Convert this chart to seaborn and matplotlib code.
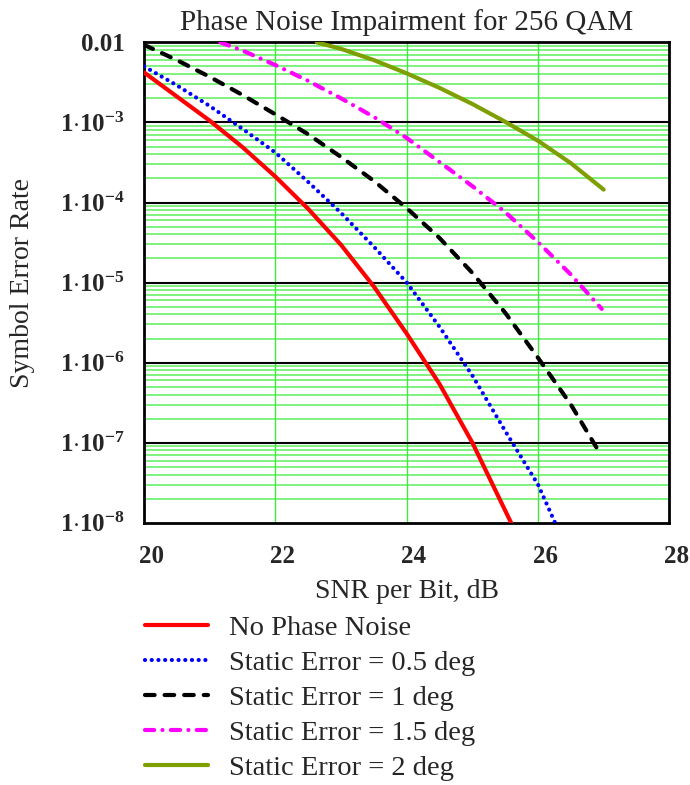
import numpy as np
import pandas as pd
import matplotlib
matplotlib.use('Agg')
import matplotlib.pyplot as plt
import matplotlib.ticker as mticker
import matplotlib.transforms as mtransforms
import seaborn as sns

# values (SNR per bit in dB, symbol error rate)
snr_none = [20.0, 20.5, 21.0, 21.5, 22.0, 22.5, 23.0, 23.5, 24.0, 24.5, 25.0, 25.59]
ser_none = [4.2e-3, 2.1e-3, 1.05e-3, 4.9e-4, 2.1e-4, 8.3e-5, 2.95e-5, 8.9e-6, 2.3e-6, 5.4e-7, 1.0e-7, 1.0e-8]

snr_05 = [20.0, 20.5, 21.0, 21.5, 22.0, 22.5, 23.0, 23.5, 24.0, 24.5, 25.0, 25.5, 26.0, 26.26]
ser_05 = [5.0e-3, 2.9e-3, 1.6e-3, 8.3e-4, 4.2e-4, 1.8e-4, 7.4e-5, 2.8e-5, 1.0e-5, 2.8e-6, 6.9e-7, 1.4e-7, 3.0e-8, 1.0e-8]

snr_1 = [20.0, 20.5, 21.0, 21.5, 22.0, 22.5, 23.0, 23.5, 24.0, 24.5, 25.0, 25.5, 26.0, 26.5, 26.96]
ser_1 = [9.3e-3, 6.0e-3, 3.7e-3, 2.2e-3, 1.26e-3, 7.1e-4, 3.7e-4, 1.86e-4, 8.5e-5, 3.6e-5, 1.32e-5, 4.2e-6, 1.15e-6, 3.0e-7, 7.0e-8]

snr_15 = [21.16, 21.5, 22.0, 22.5, 23.0, 23.5, 24.0, 24.5, 25.0, 25.5, 26.0, 26.5, 26.97]
ser_15 = [1.0e-2, 7.9e-3, 5.2e-3, 3.3e-3, 2.0e-3, 1.17e-3, 6.4e-4, 3.2e-4, 1.6e-4, 7.6e-5, 3.2e-5, 1.26e-5, 4.7e-6]

snr_2 = [22.63, 23.0, 23.5, 24.0, 24.5, 25.0, 25.5, 26.0, 26.5, 27.0]
ser_2 = [1.0e-2, 8.3e-3, 6.0e-3, 4.1e-3, 2.7e-3, 1.7e-3, 1.02e-3, 5.9e-4, 3.1e-4, 1.45e-4]

labels = ['No Phase Noise', 'Static Error = 0.5 deg', 'Static Error = 1 deg',
          'Static Error = 1.5 deg', 'Static Error = 2 deg']
colors = ['#ff0000', '#0000ff', '#000000', '#ff00ff', '#7f9f00']
styles = ['-', (0, (0.01, 1.6)), (0, (2.3, 2.4)), (0, (2.2, 2.0, 0.01, 2.0)), '-']
widths = [3.0, 3.0, 3.0, 3.0, 3.0]

sns.set_style('white')
plt.rcParams['font.family'] = ['Liberation Serif', 'DejaVu Serif']
plt.rcParams['mathtext.fontset'] = 'custom'
plt.rcParams['mathtext.rm'] = 'Liberation Serif'
plt.rcParams['mathtext.bf'] = 'Liberation Serif:bold'

fig = plt.figure(figsize=(6.9, 7.85), dpi=100)
ax = fig.add_axes([0.209, 0.334, 0.761, 0.612])

ax.set_yscale('log')
ax.set_xlim(20, 28)
ax.set_ylim(1e-8, 1e-2)

# grid: green minor horizontals, black decade lines, green verticals every 2 dB
for dec in range(-8, -2):
    for m in range(2, 10):
        ax.axhline(m * 10.0**dec, color='#5cef5c', lw=1.1, zorder=1)
for dec in range(-7, -2):
    ax.axhline(10.0**dec, color='black', lw=1.5, zorder=1.5)
for xv in [22, 24, 26]:
    ax.axvline(xv, color='#3fe83f', lw=1.0, zorder=1)

series = [(snr_none, ser_none), (snr_05, ser_05), (snr_1, ser_1), (snr_15, ser_15), (snr_2, ser_2)]
for (sx, sy), lab, c, ls, lw in zip(series, labels, colors, styles, widths):
    df = pd.DataFrame({'snr': sx, 'ser': sy})
    capst = 'butt' if ls == '-' else 'round'
    sns.lineplot(data=df, x='snr', y='ser', ax=ax, color=c, lw=lw, linestyle=ls,
                 label=lab, zorder=3, sort=False, dash_capstyle=capst)

ax.get_legend().remove()

ax.set_xticks([20, 22, 24, 26, 28])
ax.set_xticklabels(['20', '22', '24', '26', '28'], fontsize=18, fontweight='bold')
yt = [1e-8, 1e-7, 1e-6, 1e-5, 1e-4, 1e-3, 1e-2]
ylab = [r'$\mathbf{1{\cdot}10^{-%d}}$' % n for n in [8, 7, 6, 5, 4, 3]] + ['0.01']
ax.yaxis.set_major_locator(mticker.FixedLocator(yt))
ax.yaxis.set_minor_locator(mticker.NullLocator())
ax.set_yticklabels(ylab, fontsize=18, fontweight='bold')
ax.tick_params(axis='both', length=0)
ax.tick_params(axis='x', pad=16)
ax.tick_params(axis='y', pad=14)
off = mtransforms.ScaledTranslation(7 / 100, 0, fig.dpi_scale_trans)
for t in ax.get_xticklabels():
    t.set_transform(t.get_transform() + off)

for s in ax.spines.values():
    s.set_color('black')
    s.set_linewidth(2)

ax.set_xlabel('SNR per Bit, dB', fontsize=20, labelpad=8)
ax.set_ylabel('Symbol Error Rate', fontsize=20, labelpad=18)
ax.set_title('Phase Noise Impairment for 256 QAM', fontsize=21, pad=9)

handles, _ = ax.get_legend_handles_labels()
fig.legend(handles, labels, loc='upper left', bbox_to_anchor=(0.19, 0.235),
           frameon=False, fontsize=20.5, handlelength=2.2, handletextpad=0.75,
           labelspacing=0.32, borderpad=0)

fig.savefig('out.png', dpi=100)
